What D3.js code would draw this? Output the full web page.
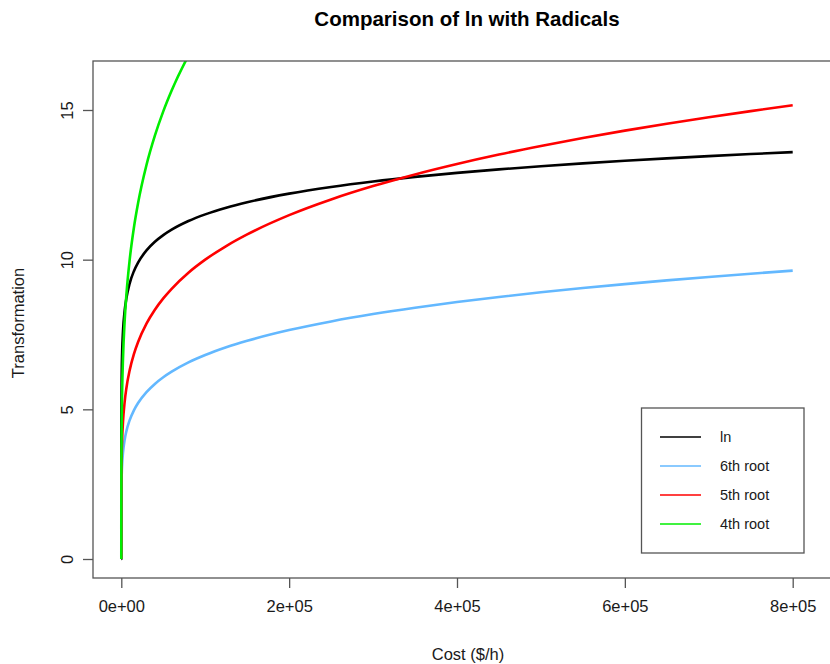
<!DOCTYPE html>
<html>
<head>
<meta charset="utf-8">
<script src="https://cdn.jsdelivr.net/npm/d3@7"></script>
<style>
  html, body { margin: 0; padding: 0; background: #fff; }
  svg text { font-family: "Liberation Sans", Arial, Helvetica, sans-serif; }
</style>
</head>
<body>
<script>
// ---- Data ----
const costs = [0, 1, 10, 100, 500, 1000, 2000, 4000, 6000, 10000, 15000, 20000, 30000, 40000, 50000, 60000, 80000,
  100000, 125000, 150000, 200000, 250000, 300000, 350000, 400000, 450000, 500000, 550000, 600000, 650000, 700000, 750000, 800000];
const lnValues = [0, 0, 2.303, 4.605, 6.215, 6.908, 7.601, 8.294, 8.700, 9.210, 9.616, 9.903, 10.309, 10.597, 10.820, 11.002, 11.290,
  11.513, 11.736, 11.918, 12.206, 12.429, 12.612, 12.766, 12.899, 13.017, 13.122, 13.218, 13.305, 13.385, 13.459, 13.528, 13.592];
const root6Values = [0, 1, 1.468, 2.154, 2.817, 3.162, 3.550, 3.984, 4.263, 4.642, 4.966, 5.210, 5.574, 5.848, 6.070, 6.257, 6.566,
  6.813, 7.071, 7.289, 7.647, 7.937, 8.183, 8.396, 8.584, 8.754, 8.909, 9.052, 9.184, 9.307, 9.423, 9.532, 9.635];
const root5Values = [0, 1, 1.585, 2.512, 3.466, 3.981, 4.573, 5.253, 5.697, 6.310, 6.844, 7.248, 7.861, 8.326, 8.706, 9.028, 9.564,
  10.0, 10.456, 10.844, 11.487, 12.011, 12.457, 12.847, 13.195, 13.510, 13.797, 14.064, 14.310, 14.541, 14.758, 14.963, 15.157];
const root4Values = [0, 1, 1.778, 3.162, 4.729, 5.623, 6.687, 7.953, 8.801, 10.0, 11.067, 11.892, 13.161, 14.142, 14.954, 15.651, 16.818,
  17.783, 18.803, 19.680, 21.147, 22.361, 23.403, 24.323, 25.149, 25.900, 26.591, 27.233, 27.832, 28.394, 28.925, 29.428, 29.907];
const seriesNames = ["ln", "6th root", "5th root", "4th root"];
const seriesColors = ["#000000", "#63B8FF", "#FF0000", "#00EE00"];
const xTicks = [0, 200000, 400000, 600000, 800000];
const xTickLabels = ["0e+00", "2e+05", "4e+05", "6e+05", "8e+05"];
const yTicks = [0, 5, 10, 15];

const series = [lnValues, root6Values, root5Values, root4Values];

// ---- Layout ----
const W = 830, H = 664;
const plot = { left: 93, top: 61, right: 842, bottom: 578 };

const svg = d3.select("body").append("svg").attr("width", W).attr("height", H);

const x = d3.scaleLinear().domain([0, 800000]).range([121.3, 792.7]);
const y = d3.scaleLinear().domain([0, 15]).range([559, 110]);

svg.append("clipPath").attr("id", "clip").append("rect")
  .attr("x", plot.left).attr("y", plot.top)
  .attr("width", plot.right - plot.left).attr("height", plot.bottom - plot.top);

const line = d3.line().x(d => x(d[0])).y(d => y(d[1])).curve(d3.curveMonotoneX);

const g = svg.append("g").attr("clip-path", "url(#clip)");
series.forEach((vals, i) => {
  g.append("path")
    .datum(costs.map((c, k) => [c, vals[k]]))
    .attr("d", line)
    .attr("fill", "none")
    .attr("stroke", seriesColors[i])
    .attr("stroke-width", 2.6)
    .attr("stroke-linejoin", "round");
});

// frame
svg.append("rect")
  .attr("x", plot.left).attr("y", plot.top)
  .attr("width", plot.right - plot.left).attr("height", plot.bottom - plot.top)
  .attr("fill", "none").attr("stroke", "#555").attr("stroke-width", 1.3);

const txt = "#1a1a1a";

// x axis
const xAxis = d3.axisBottom(x).tickValues(xTicks).tickFormat((d, i) => xTickLabels[i]).tickSize(10).tickPadding(12);
const xg = svg.append("g").attr("transform", `translate(0,${plot.bottom})`).call(xAxis);
xg.select(".domain").remove();
xg.selectAll(".tick line").attr("stroke", "#555").attr("stroke-width", 1.3);
xg.selectAll(".tick text").attr("font-size", 16.5).attr("fill", txt)
  .attr("font-family", "Liberation Sans, Arial, sans-serif");

// y axis
const yAxis = d3.axisLeft(y).tickValues(yTicks).tickSize(10).tickPadding(0);
const yg = svg.append("g").attr("transform", `translate(${plot.left},0)`).call(yAxis);
yg.select(".domain").remove();
yg.selectAll(".tick line").attr("stroke", "#555").attr("stroke-width", 1.3);
yg.selectAll(".tick text").remove();
yg.selectAll(".tick").append("text")
  .attr("transform", "translate(-26,0) rotate(-90)")
  .attr("text-anchor", "middle")
  .attr("dy", "0.35em")
  .attr("font-size", 16.5).attr("fill", txt)
  .attr("font-family", "Liberation Sans, Arial, sans-serif")
  .text(d => d);

// titles
svg.append("text").attr("x", 467).attr("y", 26).attr("text-anchor", "middle")
  .attr("font-size", 20.5).attr("font-weight", "bold").attr("fill", "#000")
  .text("Comparison of ln with Radicals");
svg.append("text").attr("x", 468).attr("y", 660).attr("text-anchor", "middle")
  .attr("font-size", 16.5).attr("fill", txt).text("Cost ($/h)");
svg.append("text").attr("transform", "translate(24,323) rotate(-90)").attr("text-anchor", "middle")
  .attr("font-size", 16.5).attr("fill", txt).text("Transformation");

// legend
const lg = svg.append("g");
lg.append("rect").attr("x", 641.5).attr("y", 408).attr("width", 162.5).attr("height", 145)
  .attr("fill", "#fff").attr("stroke", "#555").attr("stroke-width", 1.3);
const rowsY = [437, 466, 495, 524];
seriesNames.forEach((name, i) => {
  lg.append("line").attr("x1", 660).attr("x2", 701).attr("y1", rowsY[i]).attr("y2", rowsY[i])
    .attr("stroke", seriesColors[i]).attr("stroke-width", 1.3);
  lg.append("text").attr("x", 720).attr("y", rowsY[i]).attr("dy", "0.35em")
    .attr("font-size", 14.5).attr("fill", txt).text(name);
});
</script>
</body>
</html>
